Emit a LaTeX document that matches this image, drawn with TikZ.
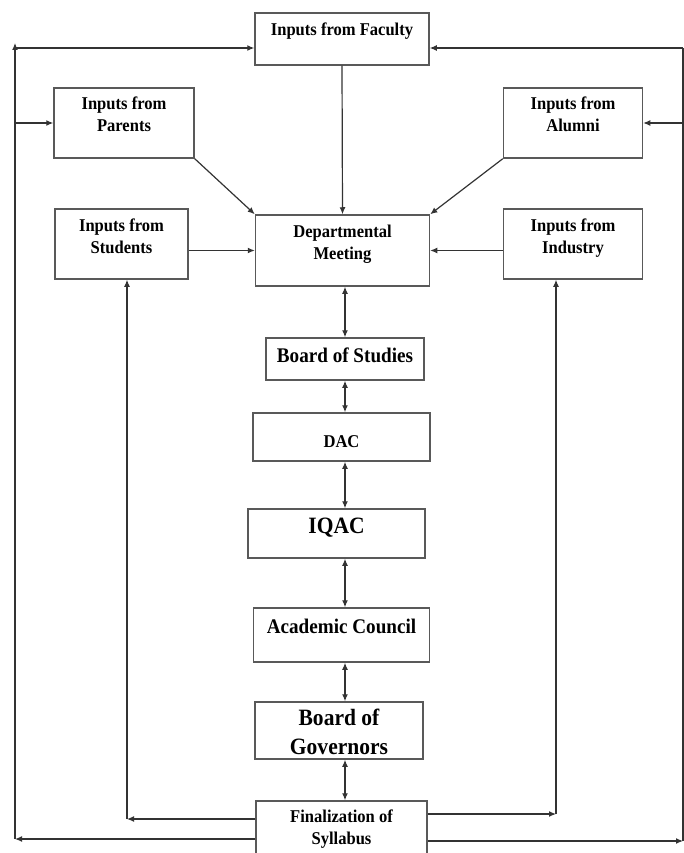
\documentclass[tikz,border=0pt]{standalone}
\usepackage{fontspec}
\setmainfont[FakeStretch=0.92]{Liberation Serif}
\usetikzlibrary{arrows.meta,positioning,calc}

\begin{document}
\begin{tikzpicture}[x=1pt,y=-1pt,
  box/.style={draw=black!65,line width=1.5pt,rectangle,align=center,inner ysep=2pt,
    font=\bfseries\fontsize{18}{22}\selectfont},
  midfont/.style={font=\bfseries\fontsize{20.8}{24}\selectfont},
  bigfont/.style={font=\bfseries\fontsize{23.4}{29}\selectfont},
  arrow/.style={-{Latex[length=7pt,width=6pt]},line width=1.2pt,black!80},
  both/.style={{Latex[length=7pt,width=6pt]}-{Latex[length=7pt,width=6pt]},line width=1.2pt,black!80},
  line/.style={line width=1.2pt,black!80},
]
  \useasboundingbox (0,0) rectangle (684,853);

  % inputs
  \node[box,minimum width=174pt,minimum height=52pt,text height=12pt,text depth=18pt] (faculty) at (342,39) {Inputs from Faculty};
  \node[box,minimum width=140pt,minimum height=70pt,text height=34pt,text depth=16pt] (parents) at (124,123) {Inputs from\\Parents};
  \node[box,minimum width=139pt,minimum height=70pt,text height=34pt,text depth=16pt] (alumni) at (573,123) {Inputs from\\Alumni};
  \node[box,minimum width=133pt,minimum height=70pt,text height=34pt,text depth=16pt] (students) at (121.5,244) {Inputs from\\Students};
  \node[box,minimum width=139pt,minimum height=70pt,text height=34pt,text depth=16pt] (industry) at (573,244) {Inputs from\\Industry};

  % approval chain
  \node[box,minimum width=174pt,minimum height=71pt,text height=34pt,text depth=17pt] (dept) at (342.5,250.5) {Departmental\\Meeting};
  \node[box,midfont,minimum width=158pt,minimum height=42pt,text height=14pt,text depth=8pt] (bos) at (345,359) {Board of Studies};
  \node[box,minimum width=177pt,minimum height=48pt,text height=24pt,text depth=4pt] (dac) at (341.5,437) {DAC};
  \node[box,bigfont,minimum width=177pt,minimum height=49pt,text height=15pt,text depth=16pt] (iqac) at (336.5,533.5) {IQAC};
  \node[box,midfont,minimum width=176pt,minimum height=54pt,text height=14pt,text depth=18pt] (council) at (341.5,635) {Academic Council};
  \node[box,bigfont,minimum width=168pt,minimum height=57pt,text height=50pt,text depth=3pt] (bog) at (339,730.5) {Board of\\Governors};
  \node[box,minimum width=171pt,minimum height=58pt,text height=34pt,text depth=6pt] (final) at (341.5,830) {Finalization of\\Syllabus};

  % turning points
  \coordinate (axis) at (345,0);
  \coordinate (stuturn) at (127,819);
  \coordinate (indturn) at (556,814);
  \coordinate (leftbot) at (15,839);
  \coordinate (lefttop) at (15,43);
  \coordinate (facin) at (15,48);
  \coordinate (rightbot) at (683,841);
  \coordinate (righttop) at (683,48);

  % inputs to meeting
  \draw[arrow] (parents.south east) -- (dept.north west);
  \draw[arrow] (faculty.south) -- (dept.north);
  \draw[arrow] (alumni.south west) -- (dept.north east);
  \draw[arrow] (students.east |- dept.west) -- (dept.west);
  \draw[arrow] (industry.west |- dept.east) -- (dept.east);

  % chain
  \foreach \a/\b in {dept/bos,bos/dac,dac/iqac,iqac/council,council/bog,bog/final}
    \draw[both] (\a.south -| axis) -- (\b.north -| axis);

  % feedback loops
  \draw[arrow] (final.west |- stuturn) -- (stuturn);
  \draw[arrow] (stuturn) -- (stuturn |- students.south);
  \draw[arrow] (final.east |- indturn) -- (indturn);
  \draw[arrow] (indturn) -- (indturn |- industry.south);

  \draw[arrow] (final.west |- leftbot) -- (leftbot);
  \draw[arrow] (leftbot) -- (lefttop);
  \draw[arrow] (facin) -- (facin -| faculty.west);
  \draw[arrow] (leftbot |- parents) -- (parents.west);

  \draw[arrow] (final.east |- rightbot) -- (rightbot);
  \draw[line] (rightbot) -- (righttop);
  \draw[arrow] (righttop) -- (righttop -| faculty.east);
  \draw[arrow] (rightbot |- alumni) -- (alumni.east);
\end{tikzpicture}
\end{document}
